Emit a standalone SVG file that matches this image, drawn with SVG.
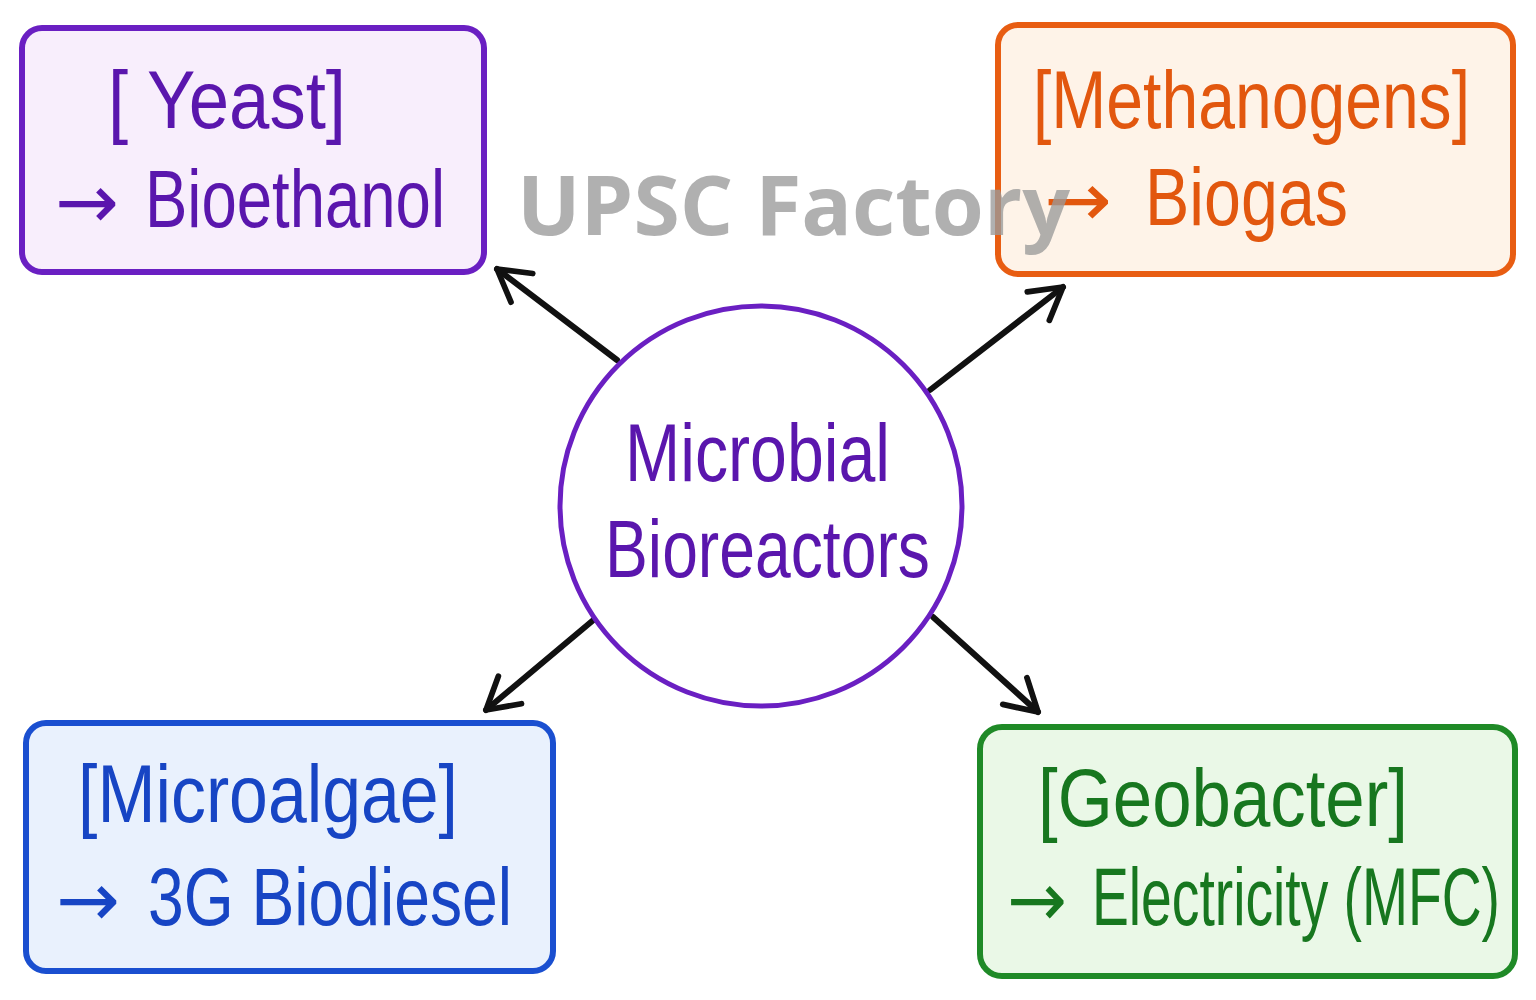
<svg xmlns="http://www.w3.org/2000/svg" width="1536" height="1000" viewBox="0 0 1536 1000">
<defs>
<marker id="ah" viewBox="0 0 20 20" refX="16" refY="10" markerWidth="8" markerHeight="8" markerUnits="strokeWidth" orient="auto">
<path d="M3,2.5 L16,10 L3,17.5" fill="none" stroke="#111" stroke-width="2.4" stroke-linecap="round" stroke-linejoin="round"/>
</marker>
<style>
.lbl{font-family:"Liberation Sans",Arial,sans-serif;font-size:82px}
.arw{font-family:"DejaVu Sans",sans-serif;font-size:76px}
.box{stroke-width:6}
.conn{stroke:#111;stroke-width:6;fill:none;stroke-linecap:round}
.pu{fill:#5a16ad}.or{fill:#e2570e}.bl{fill:#1745c4}.gr{fill:#17771f}
</style>
</defs>
<rect width="1536" height="1000" fill="#ffffff"/>
<g id="connectors">
<line class="conn" x1="617" y1="360" x2="497" y2="269" marker-end="url(#ah)"/>
<line class="conn" x1="930" y1="390" x2="1063" y2="287" marker-end="url(#ah)"/>
<line class="conn" x1="597" y1="617" x2="486" y2="710" marker-end="url(#ah)"/>
<line class="conn" x1="933" y1="617" x2="1038" y2="712" marker-end="url(#ah)"/>
</g>
<g id="center">
<ellipse cx="761" cy="506" rx="201" ry="200" fill="#ffffff" stroke="#6a1fc2" stroke-width="5"/>
<text class="lbl pu" x="625" y="481" textLength="265" lengthAdjust="spacingAndGlyphs">Microbial</text>
<text class="lbl pu" x="605" y="577" textLength="325" lengthAdjust="spacingAndGlyphs">Bioreactors</text>
</g>
<g id="yeast">
<rect class="box" x="22" y="28" width="462" height="244" rx="20" fill="#f8eefc" stroke="#6a1fc2"/>
<text class="lbl pu" x="108" y="128" textLength="238" lengthAdjust="spacingAndGlyphs">[ Yeast]</text>
<text class="arw pu" x="55" y="228" textLength="64" lengthAdjust="spacingAndGlyphs">→</text>
<text class="lbl pu" x="145" y="227" textLength="300" lengthAdjust="spacingAndGlyphs">Bioethanol</text>
</g>
<g id="methanogens">
<rect class="box" x="998" y="25" width="515" height="249" rx="20" fill="#fef3e8" stroke="#e85d12"/>
<text class="lbl or" x="1033" y="128" textLength="437" lengthAdjust="spacingAndGlyphs">[Methanogens]</text>
<text class="arw or" x="1044" y="226" textLength="68" lengthAdjust="spacingAndGlyphs">→</text>
<text class="lbl or" x="1145" y="225" textLength="203" lengthAdjust="spacingAndGlyphs">Biogas</text>
</g>
<g id="microalgae">
<rect class="box" x="26" y="723" width="527" height="248" rx="20" fill="#e9f1fd" stroke="#1a4fd0"/>
<text class="lbl bl" x="78" y="822" textLength="380" lengthAdjust="spacingAndGlyphs">[Microalgae]</text>
<text class="arw bl" x="56" y="926" textLength="64" lengthAdjust="spacingAndGlyphs">→</text>
<text class="lbl bl" x="148" y="925" textLength="364" lengthAdjust="spacingAndGlyphs">3G Biodiesel</text>
</g>
<g id="geobacter">
<rect class="box" x="980" y="727" width="535" height="249" rx="22" fill="#eaf8e7" stroke="#1f8a27"/>
<text class="lbl gr" x="1038" y="826" textLength="370" lengthAdjust="spacingAndGlyphs">[Geobacter]</text>
<text class="arw gr" x="1007" y="926" textLength="60" lengthAdjust="spacingAndGlyphs">→</text>
<text class="lbl gr" x="1092" y="925" font-size="80" textLength="408" lengthAdjust="spacingAndGlyphs">Electricity (MFC)</text>
</g>
<text x="517" y="235" font-family="Open Sans,Liberation Sans,sans-serif" font-weight="700" font-size="82" fill="#9a9a9a" fill-opacity="0.78" textLength="553" lengthAdjust="spacingAndGlyphs">UPSC Factory</text>
</svg>
